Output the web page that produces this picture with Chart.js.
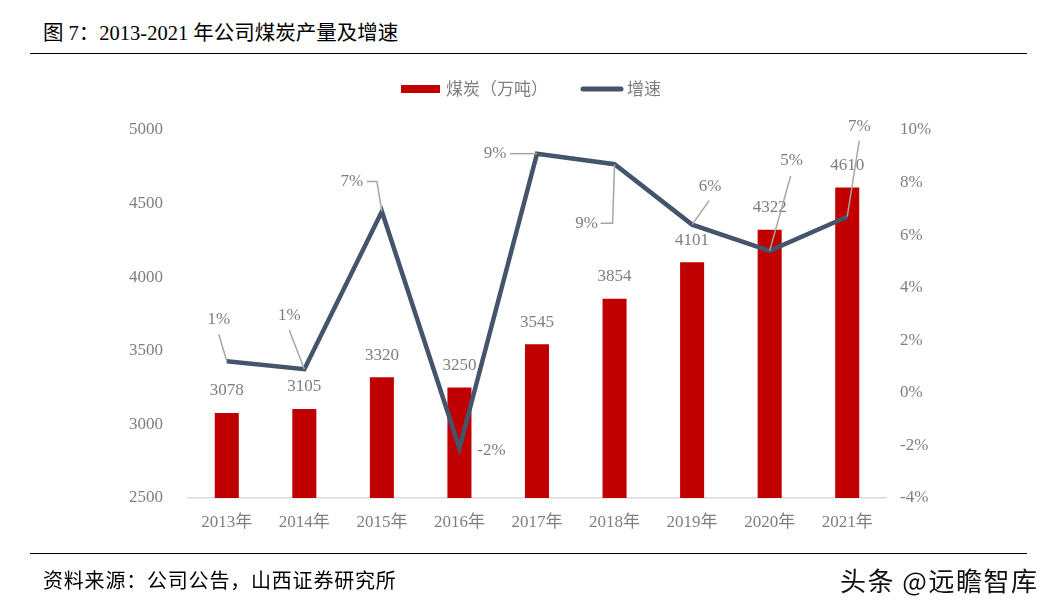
<!DOCTYPE html>
<html>
<head>
<meta charset="utf-8">
<script src="https://cdn.jsdelivr.net/npm/chart.js@4/dist/chart.umd.min.js"></script>
<style>
  body { margin:0; background:#fff; }
  #wrap { position:relative; width:1051px; height:610px; overflow:hidden; }
  #myChart { position:absolute; left:0; top:0; }
  .title { position:absolute; left:43px; top:16px; font:400 20.5px 'Liberation Serif','Noto Sans CJK SC',serif; color:#000; white-space:nowrap; }
  .rule { position:absolute; left:30px; width:997px; height:0; border-top:1.5px solid #000; }
  .source { position:absolute; left:43px; top:565px; font:400 20px 'Noto Sans CJK SC',sans-serif; letter-spacing:0.8px; color:#000; white-space:nowrap; }
  .mark { position:absolute; left:840px; top:561px; font:400 26px 'Noto Sans CJK SC',sans-serif; letter-spacing:1.5px; color:#111; white-space:nowrap; text-shadow:1px 1px 0 #fff,-1px -1px 0 #fff; }
</style>
</head>
<body>
<div id="wrap">
  <div class="title">图 7：2013-2021 年公司煤炭产量及增速</div>
  <div class="rule" style="top:53px"></div>
  <canvas id="myChart" width="1051" height="610"></canvas>
  <div class="rule" style="top:553px"></div>
  <div class="source">资料来源：公司公告，山西证券研究所</div>
  <div class="mark">头条 @远瞻智库</div>
</div>
<script>
var years = ['2013年','2014年','2015年','2016年','2017年','2018年','2019年','2020年','2021年'];
var output = [3078, 3105, 3320, 3250, 3545, 3854, 4101, 4322, 4610];
var growth = [1.2, 0.9, 6.9, -2.1, 9.1, 8.7, 6.4, 5.4, 6.7];
var growthText = ['1%','1%','7%','-2%','9%','9%','6%','5%','7%'];
var leftTicks = [2500, 3000, 3500, 4000, 4500, 5000];
var rightTicks = [-4, -2, 0, 2, 4, 6, 8, 10];

var serif = "'Liberation Serif','Noto Sans CJK SC',serif";
var grey = '#7f7f7f';

// where each growth label sits relative to its point, and the leader path back to the point
var callouts = [
    {lx:-8,  ly:-42, path:[[-8,-27]]},
    {lx:-15, ly:-54, path:[[-15,-39]]},
    {lx:-30, ly:-30, path:[[-15,-30],[-5,-30]]},
    {lx:32,  ly:2,   path:null},
    {lx:-42, ly:0,   path:[[-27,0]]},
    {lx:-28, ly:59,  path:[[-14,59],[-2,59]]},
    {lx:18,  ly:-38, path:[[17,-24]]},
    {lx:22,  ly:-90, path:[[21,-75]]},
    {lx:12,  ly:-90, path:[[12,-76]]}
];

var labelPlugin = {
    id:'labels',
    afterDatasetsDraw: function(chart){
        var ctx = chart.ctx;
        ctx.save();
        ctx.font = '17px ' + serif;
        ctx.fillStyle = grey;
        ctx.textAlign = 'center';
        ctx.textBaseline = 'middle';
        // bar values
        chart.getDatasetMeta(0).data.forEach(function(bar, i){
            ctx.fillText(output[i], bar.x, bar.y - 22);
        });
        // growth callouts
        chart.getDatasetMeta(1).data.forEach(function(pt, i){
            var c = callouts[i];
            if(c.path){
                ctx.strokeStyle = '#a6a6a6';
                ctx.lineWidth = 1.5;
                ctx.beginPath();
                ctx.moveTo(pt.x + c.path[0][0], pt.y + c.path[0][1]);
                for(var k = 1; k < c.path.length; k++)
                    ctx.lineTo(pt.x + c.path[k][0], pt.y + c.path[k][1]);
                ctx.lineTo(pt.x, pt.y);
                ctx.stroke();
            }
            ctx.fillStyle = grey;
            ctx.fillText(growthText[i], pt.x + c.lx, pt.y + c.ly);
        });
        ctx.restore();
    },
    afterDraw: function(chart){
        // legend
        var ctx = chart.ctx;
        var ds = chart.data.datasets;
        ctx.save();
        ctx.fillStyle = ds[0].backgroundColor;
        ctx.fillRect(401, 85, 39, 8);
        ctx.strokeStyle = ds[1].borderColor;
        ctx.lineWidth = 5;
        ctx.lineCap = 'round';
        ctx.beginPath();
        ctx.moveTo(583, 89);
        ctx.lineTo(621, 89);
        ctx.stroke();
        ctx.font = "17px 'Noto Sans CJK SC',sans-serif";
        ctx.fillStyle = grey;
        ctx.textBaseline = 'middle';
        ctx.fillText(ds[0].label, 446, 89);
        ctx.fillText(ds[1].label, 627, 89);
        ctx.restore();
    }
};

window.onload = function(){
    var ctx = document.getElementById('myChart').getContext('2d');
    new Chart(ctx, {
        type:'bar',
        data:{
            labels: years,
            datasets:[{
                type:'bar',
                label:'煤炭（万吨）',
                data: output,
                backgroundColor:'#c00000',
                yAxisID:'y',
                barPercentage:0.31,
                categoryPercentage:1,
                order:1
            },{
                type:'line',
                label:'增速',
                data: growth,
                borderColor:'#44546a',
                backgroundColor:'#44546a',
                borderWidth:4.5,
                pointRadius:0,
                tension:0,
                yAxisID:'y1',
                order:0
            }]
        },
        options:{
            responsive:false,
            animation:false,
            layout:{ padding:{ top:130, left:0, right:0, bottom:0 } },
            plugins:{ legend:{ display:false }, tooltip:{ enabled:false } },
            scales:{
                x:{
                    grid:{ display:false, drawTicks:false },
                    border:{ display:true, color:'#d9d9d9', width:1.5 },
                    ticks:{ color:grey, font:{ family:serif, size:17 }, padding:14, maxRotation:0 },
                    afterFit: function(s){ s.height = 112; }
                },
                y:{
                    position:'left',
                    min:2500, max:5000,
                    afterBuildTicks: function(s){ s.ticks = leftTicks.map(function(v){ return {value:v}; }); },
                    grid:{ display:false, drawTicks:false },
                    border:{ display:false },
                    ticks:{ color:grey, font:{ family:serif, size:17 }, padding:25,
                        callback: function(v){ return String(v); } },
                    afterFit: function(s){ s.width = 188; }
                },
                y1:{
                    position:'right',
                    min:-4, max:10,
                    afterBuildTicks: function(s){ s.ticks = rightTicks.map(function(v){ return {value:v}; }); },
                    grid:{ display:false, drawTicks:false },
                    border:{ display:false },
                    ticks:{ color:grey, font:{ family:serif, size:17 }, padding:14,
                        callback: function(v){ return v + '%'; } },
                    afterFit: function(s){ s.width = 165; }
                }
            }
        },
        plugins:[labelPlugin]
    });
};
</script>
</body>
</html>
